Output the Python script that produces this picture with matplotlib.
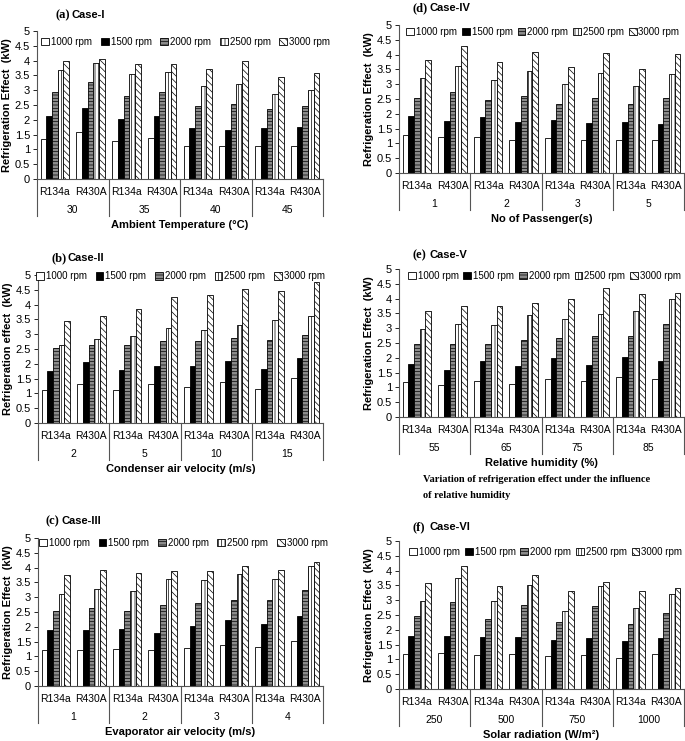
import matplotlib
matplotlib.use("Agg")
import matplotlib.pyplot as plt
import numpy as np
from matplotlib.ticker import FuncFormatter
from matplotlib.transforms import blended_transform_factory

plt.rcParams['font.family'] = ['Liberation Sans', 'DejaVu Sans']
plt.rcParams['hatch.linewidth'] = 0.5

speeds = ["1000 rpm", "1500 rpm", "2000 rpm", "2500 rpm", "3000 rpm"]
refrigerants = ["R134a", "R430A"]

# values: rows = condition x refrigerant (R134a, R430A), cols = speeds
case1_levels = ["30", "35", "40", "45"]
case1 = [[1.35, 2.13, 2.95, 3.67, 3.97], [1.60, 2.40, 3.28, 3.92, 4.07],
         [1.30, 2.04, 2.82, 3.56, 3.87], [1.40, 2.12, 2.93, 3.62, 3.90],
         [1.12, 1.72, 2.45, 3.13, 3.73], [1.13, 1.66, 2.53, 3.21, 3.98],
         [1.13, 1.73, 2.37, 2.86, 3.43], [1.13, 1.77, 2.45, 3.02, 3.58]]
case2_levels = ["2", "5", "10", "15"]
case2 = [[1.12, 1.77, 2.55, 2.62, 3.46], [1.33, 2.06, 2.63, 2.85, 3.62],
         [1.12, 1.79, 2.65, 2.93, 3.85], [1.33, 1.92, 2.78, 3.20, 4.27],
         [1.22, 1.94, 2.78, 3.13, 4.32], [1.40, 2.08, 2.87, 3.30, 4.52],
         [1.16, 1.84, 2.80, 3.47, 4.47], [1.53, 2.18, 2.97, 3.60, 4.77]]
case3_levels = ["1", "2", "3", "4"]
case3 = [[1.23, 1.88, 2.53, 3.12, 3.75], [1.23, 1.90, 2.65, 3.27, 3.92],
         [1.25, 1.92, 2.52, 3.20, 3.83], [1.20, 1.80, 2.72, 3.60, 3.87],
         [1.30, 2.03, 2.82, 3.57, 3.87], [1.40, 2.22, 2.92, 3.80, 4.07],
         [1.33, 2.10, 2.92, 3.62, 3.93], [1.53, 2.38, 3.25, 4.07, 4.18]]
case4_levels = ["1", "2", "3", "5"]
case4 = [[1.27, 1.92, 2.52, 3.20, 3.83], [1.20, 1.77, 2.72, 3.60, 4.30],
         [1.23, 1.88, 2.45, 3.13, 3.75], [1.13, 1.71, 2.60, 3.43, 4.10],
         [1.17, 1.80, 2.32, 3.00, 3.57], [1.13, 1.68, 2.55, 3.37, 4.06],
         [1.10, 1.72, 2.32, 2.93, 3.53], [1.10, 1.64, 2.52, 3.36, 4.02]]
case5_levels = ["55", "65", "75", "85"]
case5 = [[1.17, 1.80, 2.45, 2.97, 3.57], [1.07, 1.60, 2.46, 3.13, 3.76],
         [1.23, 1.90, 2.46, 3.12, 3.75], [1.13, 1.72, 2.60, 3.43, 3.85],
         [1.30, 2.00, 2.68, 3.32, 3.97], [1.20, 1.75, 2.73, 3.47, 4.35],
         [1.35, 2.02, 2.73, 3.58, 4.17], [1.28, 1.90, 3.13, 3.97, 4.18]]
case6_levels = ["250", "500", "750", "1000"]
case6 = [[1.17, 1.80, 2.45, 2.97, 3.57], [1.22, 1.78, 2.95, 3.75, 4.15],
         [1.15, 1.77, 2.35, 2.97, 3.47], [1.18, 1.75, 2.83, 3.50, 3.85],
         [1.10, 1.66, 2.25, 2.63, 3.30], [1.15, 1.72, 2.80, 3.48, 3.63],
         [1.05, 1.63, 2.20, 2.75, 3.30], [1.17, 1.72, 2.58, 3.20, 3.42]]

W, H = 685, 741
fig = plt.figure(figsize=(W / 100, H / 100), dpi=100)

styles = [dict(facecolor='white', hatch=None),
          dict(facecolor='black', hatch=None),
          dict(facecolor='#8c8c8c', hatch='-----'),
          dict(facecolor='white', hatch='|||||'),
          dict(facecolor='white', hatch='\\\\\\\\\\')]

panels = [
    ("(a)", "Case-I", case1, case1_levels, "Ambient Temperature (\u00b0C)", "Refrigeration Effect  (kW)",
     (37, 323, 31, 179), (55, 15), (0.52, 0.926), 7.0, 0.9),
    ("(b)", "Case-II", case2, case2_levels, "Condenser air velocity (m/s)", "Refrigeration effect  (kW)",
     (38, 323, 275, 423), (52, 258), (0.50, 0.99), 7.0, 0.9),
    ("(c)", "Case-III", case3, case3_levels, "Evaporator air velocity (m/s)", "Refrigeration Effect  (kW)",
     (38, 323, 538, 686), (45, 521), (0.51, 0.966), 7.0, 0.9),
    ("(d)", "Case-IV", case4, case4_levels, "No of Passenger(s)", "Refrigeration Effect  (kW)",
     (399, 684, 25, 173), (413, 8), (0.505, 0.953), 7.0, 0.5),
    ("(e)", "Case-V", case5, case5_levels, "Relative humidity (%)", "Refrigeration Effect  (kW)",
     (399, 684, 269, 417), (413, 255), (0.51, 0.953), 7.0, 0.5),
    ("(f)", "Case-VI", case6, case6_levels, "Solar radiation (W/m\u00b2)", "Refrigeration Effect  (kW)",
     (399, 684, 541, 689), (413, 527), (0.515, 0.926), 7.0, 0.5),
]

bw = 0.16
for letter, name, data, levels, xlabel, ylabel, (l, r, t, z), (tx, ty), leg, lfs, lcs in panels:
    ax = fig.add_axes([l / W, 1 - z / H, (r - l) / W, (z - t) / H])
    arr = np.array(data)
    ngroups = arr.shape[0]
    x = np.arange(ngroups)
    handles = []
    for k in range(len(speeds)):
        st = styles[k]
        b = ax.bar(x + (k - 2) * bw, arr[:, k], width=bw, facecolor=st['facecolor'],
                   edgecolor='black', linewidth=0.6, hatch=st['hatch'], label=speeds[k])
        handles.append(b)
    ax.set_xlim(-0.5, ngroups - 0.5)
    ax.set_ylim(0, 5)
    ax.set_yticks(np.arange(0, 5.01, 0.5))
    ax.yaxis.set_major_formatter(FuncFormatter(lambda v, p: f"{v:g}"))
    ax.tick_params(axis='y', labelsize=8, length=3, width=0.6, pad=2, direction='out')
    ax.set_xticks([])
    for s in ['top', 'right']:
        ax.spines[s].set_visible(False)
    ax.spines['left'].set_color('#555555')
    ax.spines['bottom'].set_color('#555555')
    ax.spines['left'].set_linewidth(0.8)
    ax.spines['bottom'].set_linewidth(0.8)

    tr = blended_transform_factory(ax.transData, ax.transAxes)
    hpx = (z - t)
    for i in range(ngroups):
        ax.text(x[i], -13 / hpx, refrigerants[i % 2], transform=tr, ha='center', va='center', fontsize=7.5)
    for j, lv in enumerate(levels):
        ax.text(2 * j + 0.5, -31 / hpx, lv, transform=tr, ha='center', va='center', fontsize=7.5)
    for sx in np.arange(-0.5, ngroups, 2):
        ax.plot([sx, sx], [0, -37 / hpx], transform=tr, color='#555555', lw=0.8, clip_on=False)
    ax.text(0.5, -46 / hpx, xlabel, transform=ax.transAxes, ha='center', va='center',
            fontsize=8, fontweight='bold')
    ax.set_ylabel(ylabel, fontsize=8, fontweight='bold')
    ax.yaxis.set_label_coords(-0.088, 0.5)

    ax.legend(handles=handles, loc='center', bbox_to_anchor=leg, ncol=5, frameon=False,
              fontsize=lfs, handlelength=0.8, handleheight=0.8, handletextpad=0.2,
              columnspacing=lcs, borderpad=0)

    fig.text(tx / W, 1 - ty / H, letter, family='Liberation Serif', fontweight='bold',
             fontsize=9, ha='left', va='center')
    fig.text((tx + 16) / W, 1 - ty / H, name, fontweight='bold', fontsize=8, ha='left', va='center')

fig.text(423 / W, 1 - 480 / H, "Variation of refrigeration effect under the influence",
         family='Liberation Serif', fontweight='bold', fontsize=7.5, ha='left', va='center')
fig.text(423 / W, 1 - 496 / H, "of relative humidity",
         family='Liberation Serif', fontweight='bold', fontsize=7.5, ha='left', va='center')

fig.savefig("out.png", dpi=100)
